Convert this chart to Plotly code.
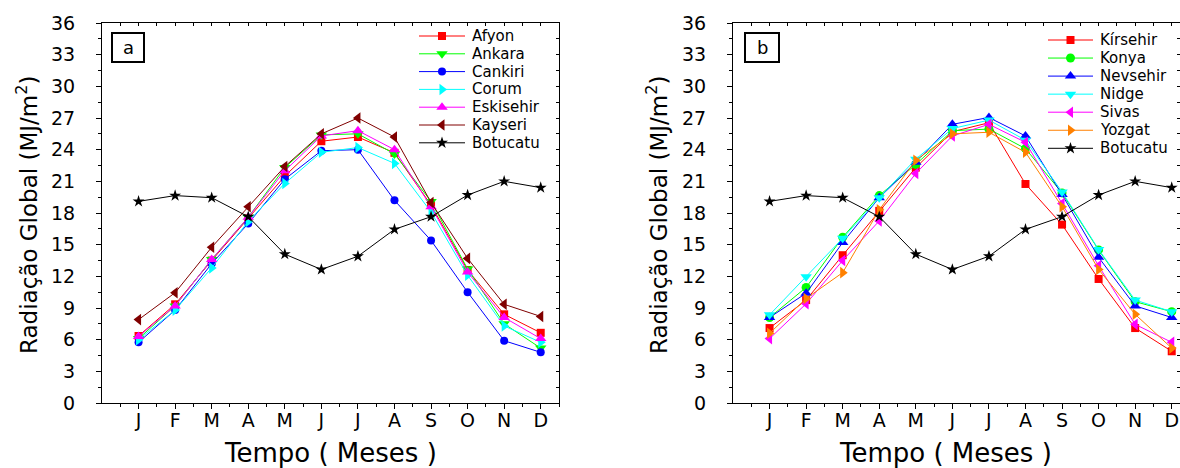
import plotly.graph_objects as go

# Month labels (x positions 1..12)
months = ["J", "F", "M", "A", "M", "J", "J", "A", "S", "O", "N", "D"]
month_idx = list(range(1, 13))

# Panel a: monthly global radiation (MJ/m2)
afyon = [6.35, 9.35, 13.5, 17.5, 21.5, 24.8, 25.2, 23.7, 18.75, 12.6, 8.4, 6.65]
ankara = [6.1, 9.2, 13.6, 17.6, 22.3, 25.4, 25.5, 23.6, 19.1, 12.7, 7.5, 5.2]
cankiri = [5.75, 8.8, 13.2, 17.0, 21.2, 23.9, 24.0, 19.2, 15.4, 10.5, 5.9, 4.8]
corum = [6.0, 8.8, 12.8, 17.2, 20.8, 23.75, 24.2, 22.7, 18.1, 12.1, 7.3, 5.75]
eskisehir = [6.3, 9.2, 13.6, 17.6, 22.0, 25.3, 25.8, 24.0, 18.6, 12.4, 8.1, 6.1]
kayseri = [7.9, 10.45, 14.75, 18.6, 22.4, 25.5, 27.0, 25.2, 19.0, 13.7, 9.35, 8.2]

# Panel b
kirsehir = [7.1, 9.75, 14.0, 18.2, 22.3, 25.7, 26.55, 20.75, 16.9, 11.75, 7.1, 4.9]
konya = [8.1, 10.95, 15.7, 19.65, 22.6, 25.8, 25.95, 24.1, 19.9, 14.5, 9.6, 8.65]
nevsehir = [8.1, 10.4, 15.2, 19.45, 22.8, 26.4, 27.05, 25.3, 19.75, 13.8, 9.2, 8.1]
nidge = [8.35, 11.95, 15.6, 19.45, 23.1, 26.0, 26.8, 24.9, 20.0, 14.55, 9.75, 8.65]
sivas = [6.1, 9.4, 13.5, 17.25, 21.75, 25.3, 26.4, 24.7, 18.9, 13.0, 7.45, 5.75]
yozgat = [6.6, 9.9, 12.35, 18.3, 23.0, 25.5, 25.65, 23.75, 18.6, 12.65, 8.4, 5.2]

# Reference station shown in both panels
botucatu = [19.1, 19.65, 19.45, 17.65, 14.1, 12.65, 13.9, 16.45, 17.65, 19.7, 21.0, 20.4]

W, H = 1180, 468
FONT = "DejaVu Sans"


def px(x):
    return x / W


def py(y):
    return 1 - y / H


series_a = [
    ("Afyon", afyon, "#ff0000", "square", 8),
    ("Ankara", ankara, "#00ff00", "triangle-down", 10),
    ("Cankiri", cankiri, "#0000ff", "circle", 8),
    ("Corum", corum, "#00ffff", "triangle-right", 10),
    ("Eskisehir", eskisehir, "#ff00ff", "triangle-up", 10),
    ("Kayseri", kayseri, "#800000", "triangle-left", 10),
    ("Botucatu", botucatu, "#000000", "star", 9),
]
series_b = [
    ("Kírsehir", kirsehir, "#ff0000", "square", 8),
    ("Konya", konya, "#00ff00", "circle", 9),
    ("Nevsehir", nevsehir, "#0000ff", "triangle-up", 10),
    ("Nidge", nidge, "#00ffff", "triangle-down", 10),
    ("Sivas", sivas, "#ff00ff", "triangle-left", 10),
    ("Yozgat", yozgat, "#ff8000", "triangle-right", 10),
    ("Botucatu", botucatu, "#000000", "star", 9),
]

fig = go.Figure()

for xa, ya, series in [("x", "y", series_a), ("x2", "y2", series_b)]:
    for name, vals, col, sym, sz in series:
        fig.add_trace(go.Scatter(
            x=month_idx, y=vals, name=name, mode="lines+markers",
            line=dict(color=col, width=1),
            marker=dict(color=col, symbol=sym, size=sz, line=dict(width=0)),
            xaxis=xa, yaxis=ya, showlegend=False, cliponaxis=False,
        ))

# Pixel-based layout of the two panels
x_a = [px(102), px(559)]
x_b = [px(733), 1.0]
y_dom = [py(403), py(23)]
unit = (559 - 102) / 12.5
x_rng_a = [0, 12.5]
x_rng_b = [0, (1180 - 733) / unit]

tickfont = dict(family=FONT, size=19, color="black")


def xaxis(domain, anchor, rng):
    return dict(
        domain=domain, anchor=anchor, range=rng,
        tickmode="array", tickvals=month_idx, ticktext=months,
        ticks="outside", ticklen=5, tickwidth=1, tickcolor="black",
        minor=dict(ticks="outside", ticklen=3, tickwidth=1, tickcolor="black",
                   tickmode="array", tickvals=[i + 0.5 for i in range(0, 13)]),
        showline=True, linecolor="black", linewidth=1, mirror=True,
        showgrid=False, zeroline=False, tickfont=tickfont,
        ticklabelstandoff=-5, automargin=False, fixedrange=True,
    )


def yaxis(domain, anchor):
    return dict(
        domain=domain, anchor=anchor, range=[0, 36],
        tickmode="linear", tick0=0, dtick=3,
        ticks="outside", ticklen=5, tickwidth=1, tickcolor="black",
        minor=dict(ticks="outside", ticklen=3, tickwidth=1, tickcolor="black", dtick=1.5),
        showline=True, linecolor="black", linewidth=1, mirror=True,
        showgrid=False, zeroline=False, tickfont=tickfont,
        ticklabelstandoff=17, automargin=False, fixedrange=True,
    )


def top_ticks(overlay, anchor, rng):
    # small inward ticks along the upper frame
    return dict(
        overlaying=overlay, anchor=anchor, side="top", range=rng,
        tickmode="linear", tick0=0, dtick=0.5, ticks="inside", ticklen=3,
        tickwidth=1, tickcolor="black", showticklabels=False, showline=False,
        showgrid=False, zeroline=False, automargin=False, fixedrange=True,
    )


def right_ticks(overlay, anchor):
    # small inward ticks along the right frame
    return dict(
        overlaying=overlay, anchor=anchor, side="right", range=[0, 36],
        tickmode="linear", tick0=0, dtick=1.5, ticks="inside", ticklen=3,
        tickwidth=1, tickcolor="black", showticklabels=False, showline=False,
        showgrid=False, zeroline=False, automargin=False, fixedrange=True,
    )


fig.update_layout(
    width=W, height=H,
    margin=dict(l=0, r=0, t=0, b=0, autoexpand=False),
    paper_bgcolor="white", plot_bgcolor="rgba(0,0,0,0)",
    showlegend=False,
    xaxis=xaxis(x_a, "y", x_rng_a),
    yaxis=yaxis(y_dom, "x"),
    xaxis2=xaxis(x_b, "y2", x_rng_b),
    yaxis2=yaxis(y_dom, "x2"),
    xaxis4=top_ticks("x", "y", x_rng_a),
    yaxis4=right_ticks("y", "x"),
    xaxis5=top_ticks("x2", "y2", x_rng_b),
    yaxis5=right_ticks("y2", "x2"),
    # full-figure pixel frame used for the legend swatches
    xaxis3=dict(domain=[0, 1], range=[0, W], visible=False, fixedrange=True, anchor="y3"),
    yaxis3=dict(domain=[0, 1], range=[H, 0], visible=False, fixedrange=True, anchor="x3"),
)

# Invisible placeholders so the overlay tick axes get drawn
for xa, ya in [("x4", "y"), ("x", "y4"), ("x5", "y2"), ("x2", "y5")]:
    fig.add_trace(go.Scatter(x=[None], y=[None], xaxis=xa, yaxis=ya, mode="lines",
                             showlegend=False, hoverinfo="skip"))

# Legends: line + symbol swatch and label for each series
legend_specs = [
    (series_a, 419, 465, 36.0, 17.8),
    (series_b, 1048, 1093, 40.0, 18.05),
]
for series, lx0, lx1, ly0, dy in legend_specs:
    mx = (lx0 + lx1) / 2
    for i, (name, _, col, sym, sz) in enumerate(series):
        yy = ly0 + i * dy
        fig.add_shape(type="line", xref="paper", yref="paper",
                      x0=px(lx0), x1=px(lx1), y0=py(yy), y1=py(yy),
                      line=dict(color=col, width=1))
        fig.add_trace(go.Scatter(
            x=[mx], y=[yy], mode="markers", xaxis="x3", yaxis="y3",
            marker=dict(color=col, symbol=sym, size=sz, line=dict(width=0)),
            showlegend=False, hoverinfo="skip", cliponaxis=False,
        ))
        fig.add_annotation(x=px(lx1 + 5), y=py(yy), xref="paper", yref="paper",
                           text=name, showarrow=False, xanchor="left", yanchor="middle",
                           font=dict(family=FONT, size=15, color="black"))

# Panel letters in framed boxes
for (x0, x1, y0, y1, txt) in [(112, 144, 33, 62, "a"), (745, 779, 33, 62, "b")]:
    fig.add_shape(type="rect", xref="paper", yref="paper",
                  x0=px(x0), x1=px(x1), y0=py(y1), y1=py(y0),
                  line=dict(color="black", width=2), fillcolor="white")
    fig.add_annotation(x=px((x0 + x1) / 2), y=py((y0 + y1) / 2), xref="paper", yref="paper",
                       text=txt, showarrow=False, xanchor="center", yanchor="middle",
                       font=dict(family=FONT, size=18, color="black"))

# Axis titles
for cx in [330, 945]:
    fig.add_annotation(x=px(cx), y=py(453), xref="paper", yref="paper",
                       text="Tempo ( Meses )", showarrow=False,
                       xanchor="center", yanchor="middle",
                       font=dict(family=FONT, size=26, color="black"))
for cx in [27, 657]:
    fig.add_annotation(x=px(cx), y=py(215), xref="paper", yref="paper",
                       text="Radiação Global (MJ/m<sup>2</sup>)", showarrow=False,
                       textangle=-90, xanchor="center", yanchor="middle",
                       font=dict(family=FONT, size=23, color="black"))

fig.write_html("out.html")
